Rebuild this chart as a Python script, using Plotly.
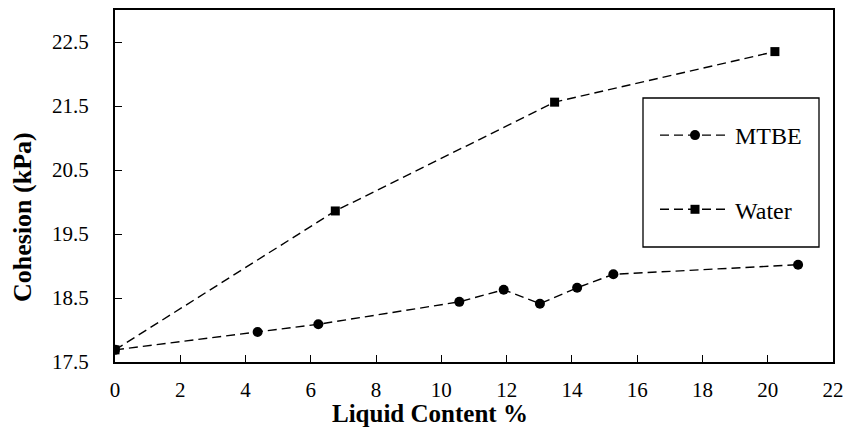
import plotly.graph_objects as go

mtbe_x = [0, 4.37, 6.23, 10.55, 11.91, 13.02, 14.16, 15.27, 20.93]
mtbe_y = [17.69, 17.97, 18.09, 18.44, 18.63, 18.41, 18.66, 18.87, 19.02]
water_x = [0, 6.75, 13.47, 20.22]
water_y = [17.69, 19.86, 21.56, 22.35]
x_ticks = list(range(0, 23, 2))
y_ticks = [17.5, 18.5, 19.5, 20.5, 21.5, 22.5]

FONT = '"Liberation Serif", "Times New Roman", Times, serif'

fig = go.Figure()
fig.add_trace(go.Scatter(
    x=mtbe_x, y=mtbe_y, mode="lines+markers", name="MTBE", legendgroup="a",
    line=dict(color="black", width=1.4, dash="9px,5px"),
    marker=dict(symbol="circle", size=10, color="black"),
))
fig.add_trace(go.Scatter(
    x=water_x, y=water_y, mode="lines+markers", name="Water", legendgroup="b",
    line=dict(color="black", width=1.4, dash="9px,5px"),
    marker=dict(symbol="square", size=9, color="black"),
))

# plot area: x 115..833, y 10..362 (px)
def px_x(p):
    return (p - 115) / 718.0

def px_y(p):
    return (362 - p) / 352.0

fig.update_layout(
    width=845, height=436,
    margin=dict(l=115, r=12, t=10, b=74, autoexpand=False),
    paper_bgcolor="white", plot_bgcolor="white",
    font=dict(family=FONT, size=20, color="black"),
    showlegend=True,
    legend=dict(
        x=px_x(655), y=px_y(113), xanchor="left", yanchor="top",
        borderwidth=0, bgcolor="rgba(0,0,0,0)",
        font=dict(family=FONT, size=24, color="black"),
        itemwidth=70, tracegroupgap=40, traceorder="grouped",
    ),
    shapes=[dict(
        type="rect", xref="x domain", yref="y domain",
        x0=px_x(643), x1=px_x(819), y0=px_y(247), y1=px_y(98),
        line=dict(color="black", width=1.3), fillcolor="white", layer="below",
    )],
    annotations=[
        dict(text="<b>Liquid Content %</b>", xref="paper", yref="paper",
             x=px_x(430), y=px_y(413), xanchor="center", yanchor="middle",
             showarrow=False, font=dict(family=FONT, size=25)),
        dict(text="<b>Cohesion (kPa)</b>", xref="paper", yref="paper",
             x=px_x(22), y=px_y(217), xanchor="center", yanchor="middle",
             textangle=-90, showarrow=False, font=dict(family=FONT, size=26)),
    ],
    xaxis=dict(
        range=[0, 22], tickvals=x_ticks, ticktext=[str(v) for v in x_ticks],
        ticks="inside", ticklen=7, tickwidth=1.3, tickcolor="black",
        showline=True, linecolor="black", linewidth=2, mirror=True,
        showgrid=False, zeroline=False, automargin=False,
        ticklabelstandoff=8,
        tickfont=dict(family=FONT, size=21),
    ),
    yaxis=dict(
        range=[17.5, 23.0], tickvals=y_ticks, ticktext=[f"{v:.1f}" for v in y_ticks],
        ticks="inside", ticklen=7, tickwidth=1.3, tickcolor="black",
        showline=True, linecolor="black", linewidth=2, mirror=True,
        showgrid=False, zeroline=False, automargin=False,
        ticklabelstandoff=20,
        tickfont=dict(family=FONT, size=21),
    ),
)

fig.write_html("out.html")
